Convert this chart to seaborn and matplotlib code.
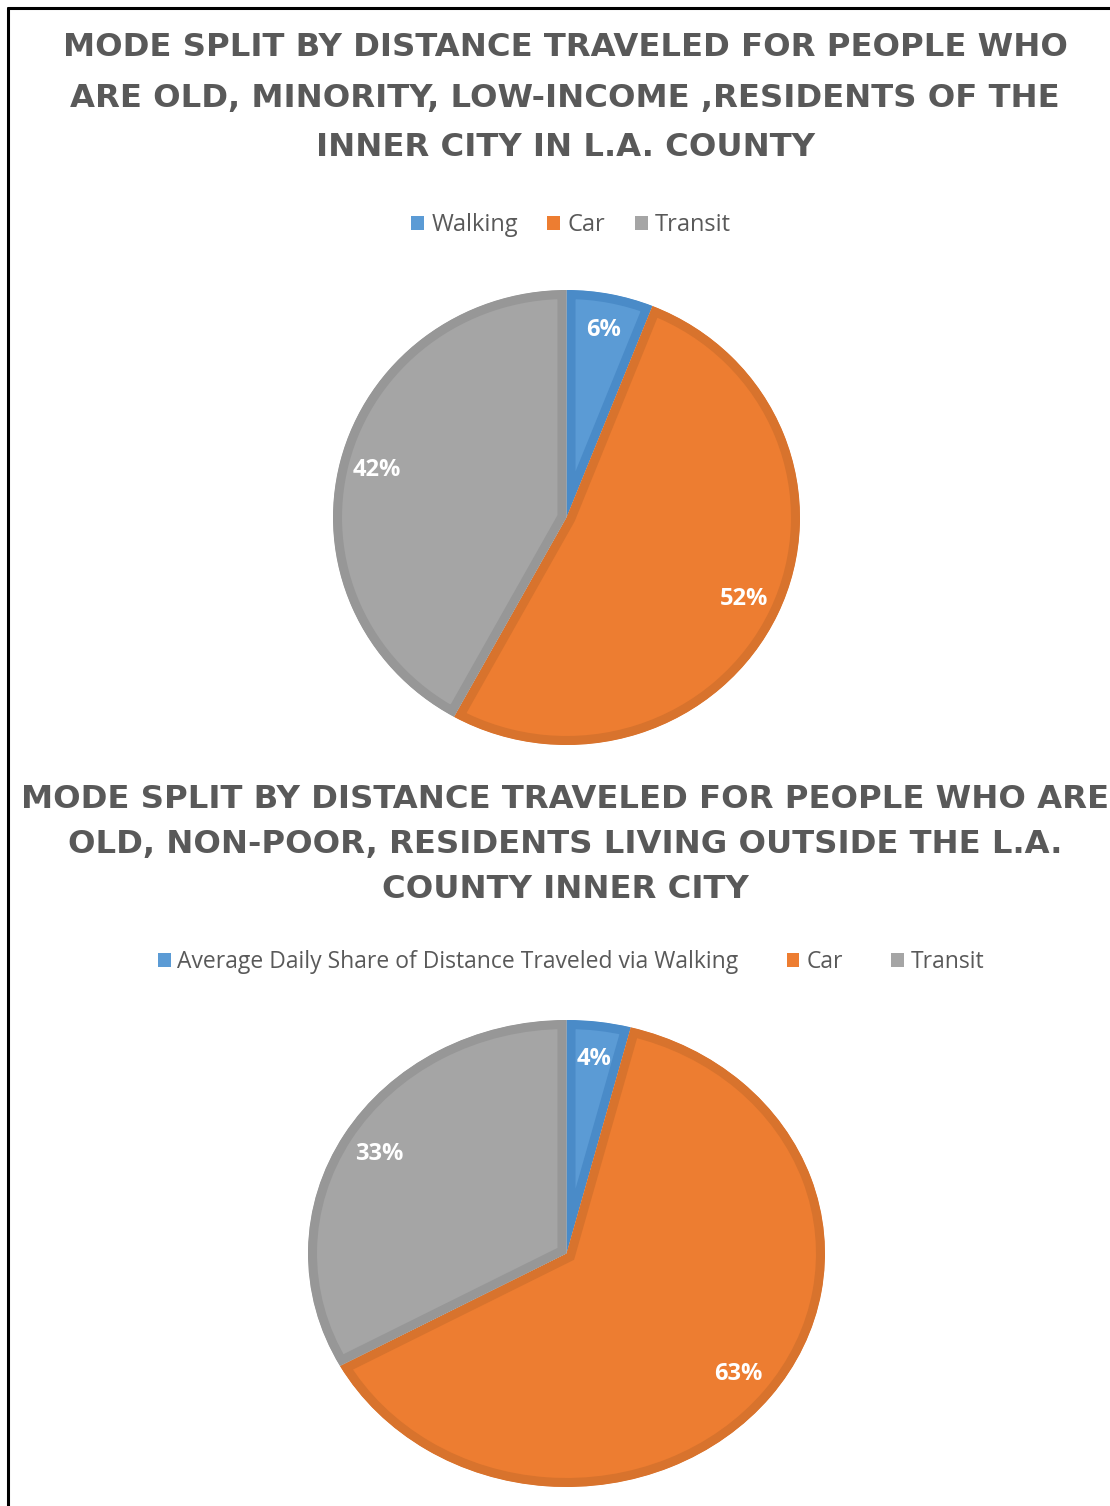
import matplotlib
matplotlib.use('Agg')
import matplotlib.pyplot as plt
import seaborn as sns
from matplotlib.lines import Line2D
from matplotlib.patches import Patch

# data
modes = ['Walking', 'Car', 'Transit']
share_inner = [6, 52, 42]
share_outer = [4, 63, 33]
legend_inner = ['Walking', 'Car', 'Transit']
legend_outer = ['Average Daily Share of Distance Traveled via Walking', 'Car', 'Transit']
title_inner = ['MODE SPLIT BY DISTANCE TRAVELED FOR PEOPLE WHO',
               'ARE OLD, MINORITY, LOW-INCOME ,RESIDENTS OF THE',
               'INNER CITY IN L.A. COUNTY']
title_outer = ['MODE SPLIT BY DISTANCE TRAVELED FOR PEOPLE WHO ARE',
               'OLD, NON-POOR, RESIDENTS LIVING OUTSIDE THE L.A.',
               'COUNTY INNER CITY']

fills = ['#5B9BD5', '#ED7D31', '#A5A5A5']
edges = ['#4A8BC8', '#D8732D', '#979797']
text_grey = '#595959'

sns.set_theme(style='white')
plt.rcParams['font.family'] = ['Open Sans', 'DejaVu Sans']

W, H = 1110, 1506
fig = plt.figure(figsize=(W / 100, H / 100), dpi=100)
fig.patch.set_facecolor('white')


def px_box(x0, y0, x1, y1):
    return [x0 / W, 1 - y1 / H, (x1 - x0) / W, (y1 - y0) / H]


def draw_pie(box, values):
    ax = fig.add_axes(box)
    wedges, _, autotexts = ax.pie(values, colors=fills, startangle=90, counterclock=False,
                                  radius=1.0, autopct='%d%%', pctdistance=0.84,
                                  wedgeprops=dict(linewidth=13))
    for w, ec in zip(wedges, edges):
        w.set_edgecolor(ec)
        w.set_clip_on(True)
        w.set_clip_path(w)  # keep the darker border inside each slice
    for t in autotexts:
        t.set_color('white')
        t.set_fontweight('bold')
        t.set_fontsize(17)
    ax.set_aspect('auto')
    ax.set_xlim(-1, 1)
    ax.set_ylim(-1, 1)
    return ax


ax1 = draw_pie(px_box(333, 290, 800, 745), share_inner)
ax2 = draw_pie(px_box(308, 1020, 825, 1487), share_outer)

# titles
for i, line in enumerate(title_inner):
    fig.text(565 / W, 1 - (48 + 50 * i) / H, line, ha='center', va='center',
             fontsize=23.2, fontweight='bold', color=text_grey, family='DejaVu Sans')
for i, line in enumerate(title_outer):
    fig.text(565 / W, 1 - (800 + 45 * i) / H, line, ha='center', va='center',
             fontsize=23.2, fontweight='bold', color=text_grey, family='DejaVu Sans')

# legends
handles = [Patch(facecolor=c, edgecolor='none') for c in fills]
fig.legend(handles, legend_inner, loc='center', bbox_to_anchor=(571 / W, 1 - 225 / H), ncol=3,
           frameon=False, fontsize=17, labelcolor=text_grey, handlelength=0.55, handleheight=0.55,
           handletextpad=0.3, columnspacing=1.25)
fig.legend(handles, legend_outer, loc='center', bbox_to_anchor=(571 / W, 1 - 962 / H), ncol=3,
           frameon=False, fontsize=16.5, labelcolor=text_grey, handlelength=0.55, handleheight=0.55,
           handletextpad=0.3, columnspacing=2.1)

# frame lines at the top and left edge
fig.add_artist(Line2D([8 / W, 1], [1 - 8 / H, 1 - 8 / H], color='black', linewidth=2.2))
fig.add_artist(Line2D([8 / W, 8 / W], [0, 1 - 8 / H], color='black', linewidth=2.2))

fig.savefig('out.png', dpi=100, facecolor='white')
